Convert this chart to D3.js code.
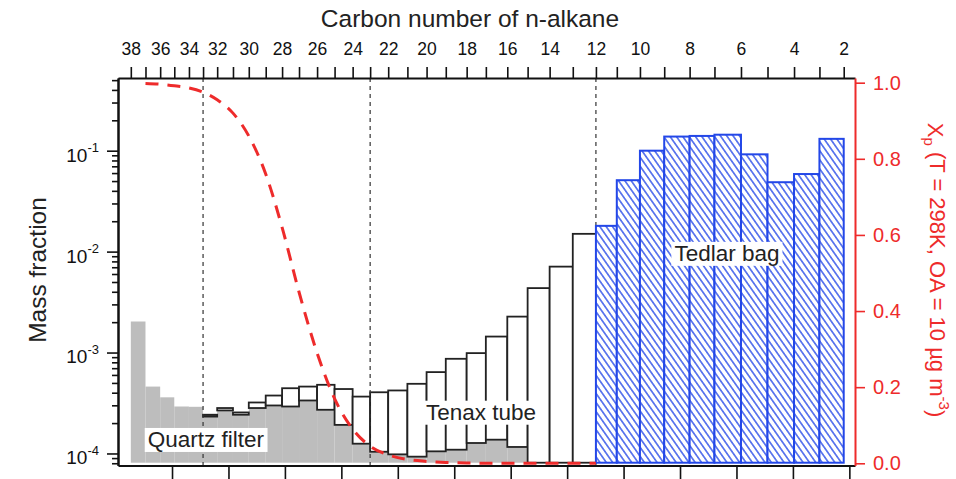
<!DOCTYPE html>
<html><head><meta charset="utf-8">
<script src="https://cdn.jsdelivr.net/npm/d3@7"></script>
<style>
html,body{margin:0;padding:0;background:#fff;}
svg{display:block;font-family:"Liberation Sans",Arial,Helvetica,sans-serif;}
</style></head><body>
<svg id="chart" width="956" height="479"></svg>
<script>
// ---------------- data ----------------
const carbonNumbers = [38,37,36,35,34,33,32,31,30,29,28,27,26,25,24,23,22,21,20,19,18,17,16,15,14,13,12,11,10,9,8,7,6,5,4,3,2];
// hidden volatility coordinate (log10 C*-like) of each carbon number
const logCstar = [-0.73,-0.47,-0.21,0.04,0.30,0.55,0.80,1.08,1.36,1.66,1.95,2.25,2.57,2.88,3.20,3.51,3.83,4.17,4.51,4.85,5.22,5.56,5.94,6.30,6.69,7.10,7.51,7.88,8.29,8.72,9.17,9.61,10.08,10.55,11.02,11.47,11.90];

const quartzCarbons = [37,36,35,34,33,32,31,30,29,28,27,26,25,24,23,22,21,20,19,18,17,16,15];
const quartzValues  = [2.03e-3,4.6e-4,3.6e-4,2.92e-4,2.9e-4,2.32e-4,2.67e-4,2.42e-4,2.82e-4,2.99e-4,2.92e-4,3.35e-4,2.71e-4,1.92e-4,1.25e-4,1.04e-4,9.8e-5,9.3e-5,1.05e-4,1.09e-4,1.27e-4,1.37e-4,1.16e-4];

const tenaxCarbons = [32,31,30,29,28,27,26,25,24,23,22,21,20,19,18,17,16,15,14,13,12];
const tenaxValues  = [2.42e-4,2.82e-4,2.55e-4,3.2e-4,3.75e-4,4.43e-4,4.6e-4,4.79e-4,4.35e-4,3.66e-4,4.04e-4,4.21e-4,4.9e-4,6.4e-4,8.67e-4,9.87e-4,1.44e-3,2.27e-3,4.35e-3,7.1e-3,1.5e-2];

const tedlarCarbons = [11,10,9,8,7,6,5,4,3,2];
const tedlarValues  = [1.8e-2,5.1e-2,0.1,0.138,0.14,0.144,0.092,0.0487,0.0587,0.131];

const xpCarbons = [37,36,35,34,33,32,31,30,29,28,27,26,25,24,23,22,21,20,19,18,17,16,15,14,13,12];
const xpValues  = [0.998,0.996,0.992,0.986,0.975,0.955,0.92,0.86,0.76,0.62,0.45,0.29,0.17,0.09,0.045,0.022,0.01,0.005,0.002,0.001,0,0,0,0,0,0];

const dividerCarbons = [33,23,12];
const leftMajorTicks = [1e-4,1e-3,1e-2,1e-1];
const rightTicks = [0,0.2,0.4,0.6,0.8,1.0];
const bottomTicks = [0,1,2,3,4,5,6,7,8,9,10,11,12];
const barBaseline = 8.1e-5;

const labels = [
  {text:"Quartz filter", u:-0.43, v:1.16e-4},
  {text:"Tenax tube",    u:4.50,   v:2.16e-4},
  {text:"Tedlar bag",    u:8.90,   v:8.1e-3}
];

// ---------------- layout ----------------
const W = 956, H = 479;
const m = {left:118, right:101, top:78, bottom:13.5};
const RED = "#ee2b2b", BLUE = "#2347e8", GRAY = "#bdbdbd", INK = "#222";

const svg = d3.select("#chart");
const defs = svg.append("defs");
const pat = defs.append("pattern").attr("id","hatch").attr("patternUnits","userSpaceOnUse")
  .attr("width",5.2).attr("height",5.2).attr("patternTransform","rotate(-35)");
pat.append("rect").attr("width",5.2).attr("height",5.2).attr("fill","#fff");
pat.append("line").attr("x1",2.6).attr("y1",-1).attr("x2",2.6).attr("y2",6.2)
  .attr("stroke",BLUE).attr("stroke-width",1.3);

const x = d3.scaleLinear().domain([-0.957, 12.1]).range([m.left, W-m.right]);
const y = d3.scaleLog().domain([7.6e-5, 0.525]).range([H-m.bottom, m.top]);
const yR = d3.scaleLinear().domain([-0.0058, 1.0123]).range([H-m.bottom, m.top]);

const uOf = new Map(carbonNumbers.map((c,i)=>[c, logCstar[i]]));
const xL = c => x(uOf.get(c+1));
const xRt = c => x(uOf.get(c));
const quartzOf = new Map(quartzCarbons.map((c,i)=>[c, quartzValues[i]]));

// quartz (gray) bars
svg.append("g").selectAll("rect").data(quartzCarbons.map((c,i)=>({c, v:quartzValues[i]})))
  .join("rect")
  .attr("x", d=>xL(d.c)).attr("width", d=>xRt(d.c)-xL(d.c))
  .attr("y", d=>y(d.v)).attr("height", d=>y(barBaseline)-y(d.v))
  .attr("fill", GRAY);

// tenax boxes, stacked on quartz
svg.append("g").selectAll("rect").data(tenaxCarbons.map((c,i)=>({c, v:tenaxValues[i], b: quartzOf.has(c)? quartzOf.get(c) : barBaseline})))
  .join("rect")
  .attr("x", d=>xL(d.c)).attr("width", d=>xRt(d.c)-xL(d.c))
  .attr("y", d=>y(d.v)).attr("height", d=>Math.max(0.5, y(d.b)-y(d.v)))
  .attr("fill", "#fff").attr("stroke", INK).attr("stroke-width", 1.8);

// dashed dividers
svg.append("g").selectAll("line").data(dividerCarbons).join("line")
  .attr("x1", c=>x(uOf.get(c))).attr("x2", c=>x(uOf.get(c)))
  .attr("y1", m.top).attr("y2", H-m.bottom)
  .attr("stroke", "#333").attr("stroke-width", 1.2).attr("stroke-dasharray","4,4");

// tedlar hatched bars
svg.append("g").selectAll("rect").data(tedlarCarbons.map((c,i)=>({c, v:tedlarValues[i]})))
  .join("rect")
  .attr("x", d=>xL(d.c)).attr("width", d=>xRt(d.c)-xL(d.c))
  .attr("y", d=>y(d.v)).attr("height", d=>y(barBaseline)-y(d.v))
  .attr("fill", "url(#hatch)").attr("stroke", BLUE).attr("stroke-width", 2);

// labels with white background
const lg = svg.append("g");
labels.forEach(l=>{
  const g = lg.append("g");
  const t = g.append("text").attr("x", x(l.u)).attr("y", y(l.v))
    .attr("font-size", 22.5).attr("fill", INK).text(l.text);
  const bb = t.node().getBBox();
  g.insert("rect","text").attr("x", bb.x-3).attr("y", bb.y+1).attr("width", bb.width+6).attr("height", bb.height-1).attr("fill","#fff");
});

// red Xp curve
const line = d3.line().x(d=>x(uOf.get(d.c))).y(d=>yR(d.v)).curve(d3.curveMonotoneX);
svg.append("path").datum(xpCarbons.map((c,i)=>({c, v:xpValues[i]})))
  .attr("d", line).attr("fill","none").attr("stroke", RED).attr("stroke-width", 3)
  .attr("stroke-dasharray","13,9");

// ---------------- axes ----------------
function styleAxis(g, color, w){
  g.select(".domain").attr("stroke", color).attr("stroke-width", w);
  g.selectAll(".tick line").attr("stroke", color).attr("stroke-width", 1.6);
  g.selectAll(".tick text").attr("fill", color);
}

// top axis (carbon number)
const gT = svg.append("g").attr("transform",`translate(0,${m.top})`)
  .call(d3.axisTop(x).tickValues(logCstar).tickSize(11).tickSizeOuter(0).tickPadding(12)
    .tickFormat((d,i)=> carbonNumbers[i]%2===0 ? carbonNumbers[i] : ""));
gT.selectAll(".tick text").attr("font-size",17.5).attr("font-family",null);
styleAxis(gT, "#111", 2);

// bottom axis (unlabelled)
const gB = svg.append("g").attr("transform",`translate(0,${H-m.bottom})`)
  .call(d3.axisBottom(x).tickValues(bottomTicks).tickSize(14).tickSizeOuter(0).tickFormat(""));
styleAxis(gB, "#111", 2);

// left axis (log)
const [ylo, yhi] = y.domain();
const minor = [];
for (let k=-5;k<=0;k++) for (let j=2;j<=9;j++){ const v=j*Math.pow(10,k); if (v>=ylo && v<=yhi) minor.push(v); }
const gLm = svg.append("g").attr("transform",`translate(${m.left},0)`)
  .call(d3.axisLeft(y).tickValues(minor).tickSize(6).tickSizeOuter(0).tickFormat(""));
styleAxis(gLm, "#111", 2);
const gL = svg.append("g").attr("transform",`translate(${m.left},0)`)
  .call(d3.axisLeft(y).tickValues(leftMajorTicks).tickSize(11).tickSizeOuter(0).tickPadding(8));
styleAxis(gL, "#111", 2);
gL.selectAll(".tick text").attr("font-size",19).attr("font-family",null).attr("dy","0.55em").text(null)
  .each(function(d){
    const t = d3.select(this);
    t.append("tspan").text("10");
    t.append("tspan").attr("font-size",13).attr("dy","-0.75em").text(Math.round(Math.log10(d)));
  });

// right axis (Xp)
const gR = svg.append("g").attr("transform",`translate(${W-m.right},0)`)
  .call(d3.axisRight(yR).tickValues(rightTicks).tickSize(10).tickSizeOuter(0).tickPadding(8).tickFormat(d3.format(".1f")));
gR.selectAll(".tick text").attr("font-size",20).attr("font-family",null);
styleAxis(gR, RED, 2);

// axis titles
svg.append("text").attr("x", 470).attr("y", 27).attr("text-anchor","middle")
  .attr("font-size",24.5).attr("fill",INK).text("Carbon number of n-alkane");

svg.append("text").attr("transform","translate(46,270) rotate(-90)").attr("text-anchor","middle")
  .attr("font-size",24.5).attr("fill",INK).text("Mass fraction");

const rt = svg.append("text").attr("transform","translate(928,270) rotate(90)").attr("text-anchor","middle")
  .attr("font-size",22).attr("fill",RED);
rt.append("tspan").text("X");
rt.append("tspan").attr("font-size",15).attr("dy","0.3em").text("p");
rt.append("tspan").attr("dy","-0.3em").text(" (T = 298K, OA = 10 µg m");
rt.append("tspan").attr("font-size",15).attr("dy","-0.6em").text("-3");
rt.append("tspan").attr("dy","0.45em").text(")");
</script>
</body></html>
